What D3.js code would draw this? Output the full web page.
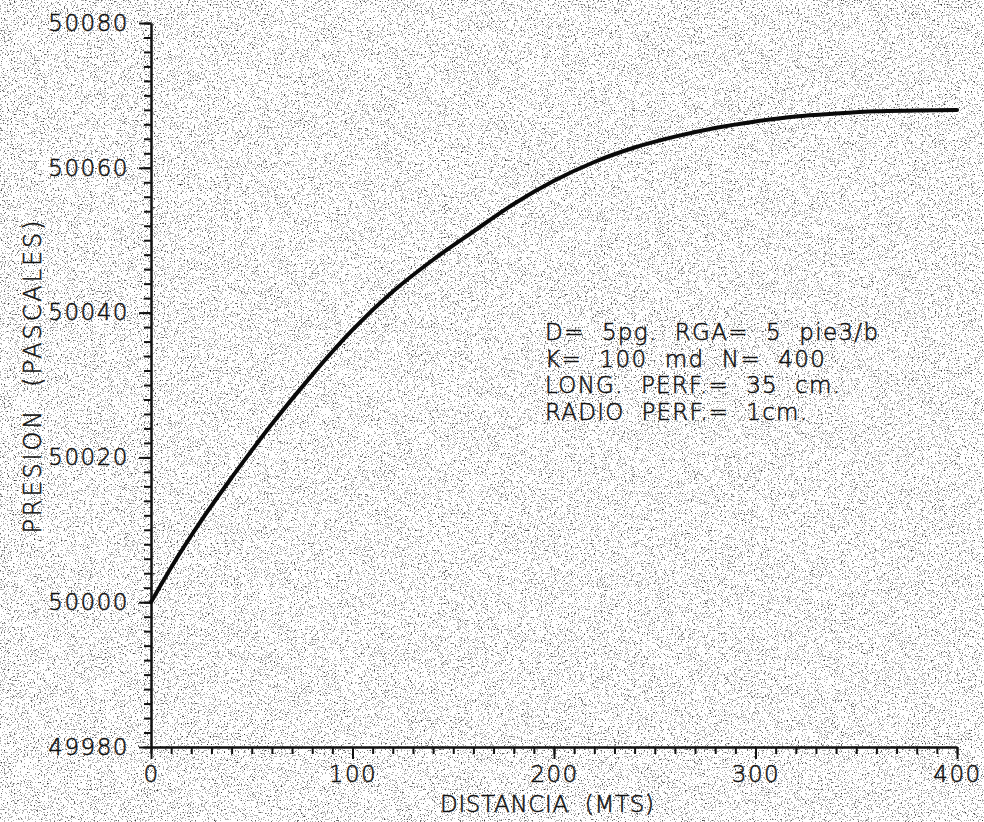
<!DOCTYPE html>
<html>
<head>
<meta charset="utf-8">
<script src="https://cdn.jsdelivr.net/npm/d3@7"></script>
<style>
    body { margin: 0; background: #fff; }
    svg text { font-family: 'DejaVu Sans', sans-serif; font-weight: 200; fill: #111; stroke: #111; stroke-width: 0.5; }
    .axis path, .axis line { stroke: #111; stroke-width: 2; }
</style>
</head>
<body>
<div id="chart"></div>
<script>
// data
const distancia = [0, 10, 25, 40, 60, 80, 100, 120, 140, 160, 180, 200, 220, 240, 260, 280, 300, 320, 340, 360, 380, 400];
const presion = [50000.0, 50004.8, 50011.3, 50017.2, 50024.6, 50031.4, 50037.6, 50042.9, 50047.3, 50051.2, 50055.0,
    50058.2, 50060.8, 50062.8, 50064.3, 50065.5, 50066.4, 50067.1, 50067.5, 50067.8, 50067.9, 50068.0];
const xMajorTicks = [0, 100, 200, 300, 400];
const yMajorTicks = [49980, 50000, 50020, 50040, 50060, 50080];
const notes = ['D=  5pg.  RGA=  5  pie3/b', 'K=  100  md  N=  400', 'LONG.  PERF.=  35  cm.', 'RADIO  PERF.=  1cm.'];

const width = 984;
const height = 822;

const svg = d3.select('#chart').append('svg')
    .attr('width', width)
    .attr('height', height);

// scanned paper look
const defs = svg.append('defs');
const grain = defs.append('filter').attr('id', 'grain')
    .attr('x', 0).attr('y', 0).attr('width', '100%').attr('height', '100%');
grain.append('feTurbulence')
    .attr('type', 'fractalNoise')
    .attr('baseFrequency', 0.7)
    .attr('numOctaves', 2)
    .attr('seed', 7)
    .attr('stitchTiles', 'stitch');
grain.append('feColorMatrix')
    .attr('type', 'matrix')
    .attr('values', '0 0 0 0 0  0 0 0 0 0  0 0 0 0 0  1 0 0 0 0');
grain.append('feComponentTransfer').append('feFuncA')
    .attr('type', 'discrete')
    .attr('tableValues', '0 0 0 0 0 0 0.3 0.6 0.8 0.9');

svg.append('rect').attr('width', width).attr('height', height).attr('fill', '#fff');
svg.append('rect').attr('width', width).attr('height', height).attr('filter', 'url(#grain)');

const x = d3.scaleLinear().domain([0, 400]).range([151, 957]);
const y = d3.scaleLinear().domain([49980, 50080]).range([747, 23]);

//minor ticks
svg.append('g')
    .attr('class', 'axis')
    .attr('transform', `translate(0,${y(49980)})`)
    .call(d3.axisBottom(x).tickValues(d3.range(0, 401, 10)).tickSize(7).tickFormat('').tickSizeOuter(0));
svg.append('g')
    .attr('class', 'axis')
    .attr('transform', `translate(${x(0)},0)`)
    .call(d3.axisLeft(y).tickValues(d3.range(49980, 50081, 2)).tickSize(7).tickFormat('').tickSizeOuter(0));

//major ticks + labels
const xAxis = svg.append('g')
    .attr('class', 'axis')
    .attr('transform', `translate(0,${y(49980)})`)
    .call(d3.axisBottom(x).tickValues(xMajorTicks).tickSize(12).tickPadding(7).tickSizeOuter(0));
xAxis.selectAll('text').attr('font-size', 23).style('letter-spacing', '1.5px');

const yAxis = svg.append('g')
    .attr('class', 'axis')
    .attr('transform', `translate(${x(0)},0)`)
    .call(d3.axisLeft(y).tickValues(yMajorTicks).tickSize(12).tickPadding(10).tickFormat(d3.format('d')).tickSizeOuter(0));
yAxis.selectAll('text').attr('font-size', 23).style('letter-spacing', '1.5px');
svg.selectAll('.axis text').attr('font-family', null).attr('fill', null);

// curve
const line = d3.line()
    .x((d) => x(d[0]))
    .y((d) => y(d[1]))
    .curve(d3.curveMonotoneX);

svg.append('path')
    .datum(d3.zip(distancia, presion))
    .attr('d', line)
    .attr('fill', 'none')
    .attr('stroke', '#0a0a0a')
    .attr('stroke-width', 4)
    .attr('stroke-linecap', 'round');

// axis titles
svg.append('text')
    .attr('x', 547)
    .attr('y', 812)
    .attr('text-anchor', 'middle')
    .attr('font-size', 23)
    .attr('textLength', 214)
    .attr('lengthAdjust', 'spacing')
    .style('white-space', 'pre')
    .text('DISTANCIA  (MTS)');

svg.append('text')
    .attr('transform', 'translate(41,377) rotate(-90)')
    .attr('text-anchor', 'middle')
    .attr('font-size', 24)
    .attr('textLength', 313)
    .attr('lengthAdjust', 'spacing')
    .style('white-space', 'pre')
    .text('PRESION  (PASCALES)');

// annotation
const noteWidths = [333, 280, 295, 262];
svg.append('g').selectAll('text')
    .data(notes)
    .enter().append('text')
    .attr('x', 545)
    .attr('y', (d, i) => 340 + i * 26.5)
    .attr('font-size', 23)
    .attr('textLength', (d, i) => noteWidths[i])
    .attr('lengthAdjust', 'spacing')
    .style('white-space', 'pre')
    .text((d) => d);
</script>
</body>
</html>
